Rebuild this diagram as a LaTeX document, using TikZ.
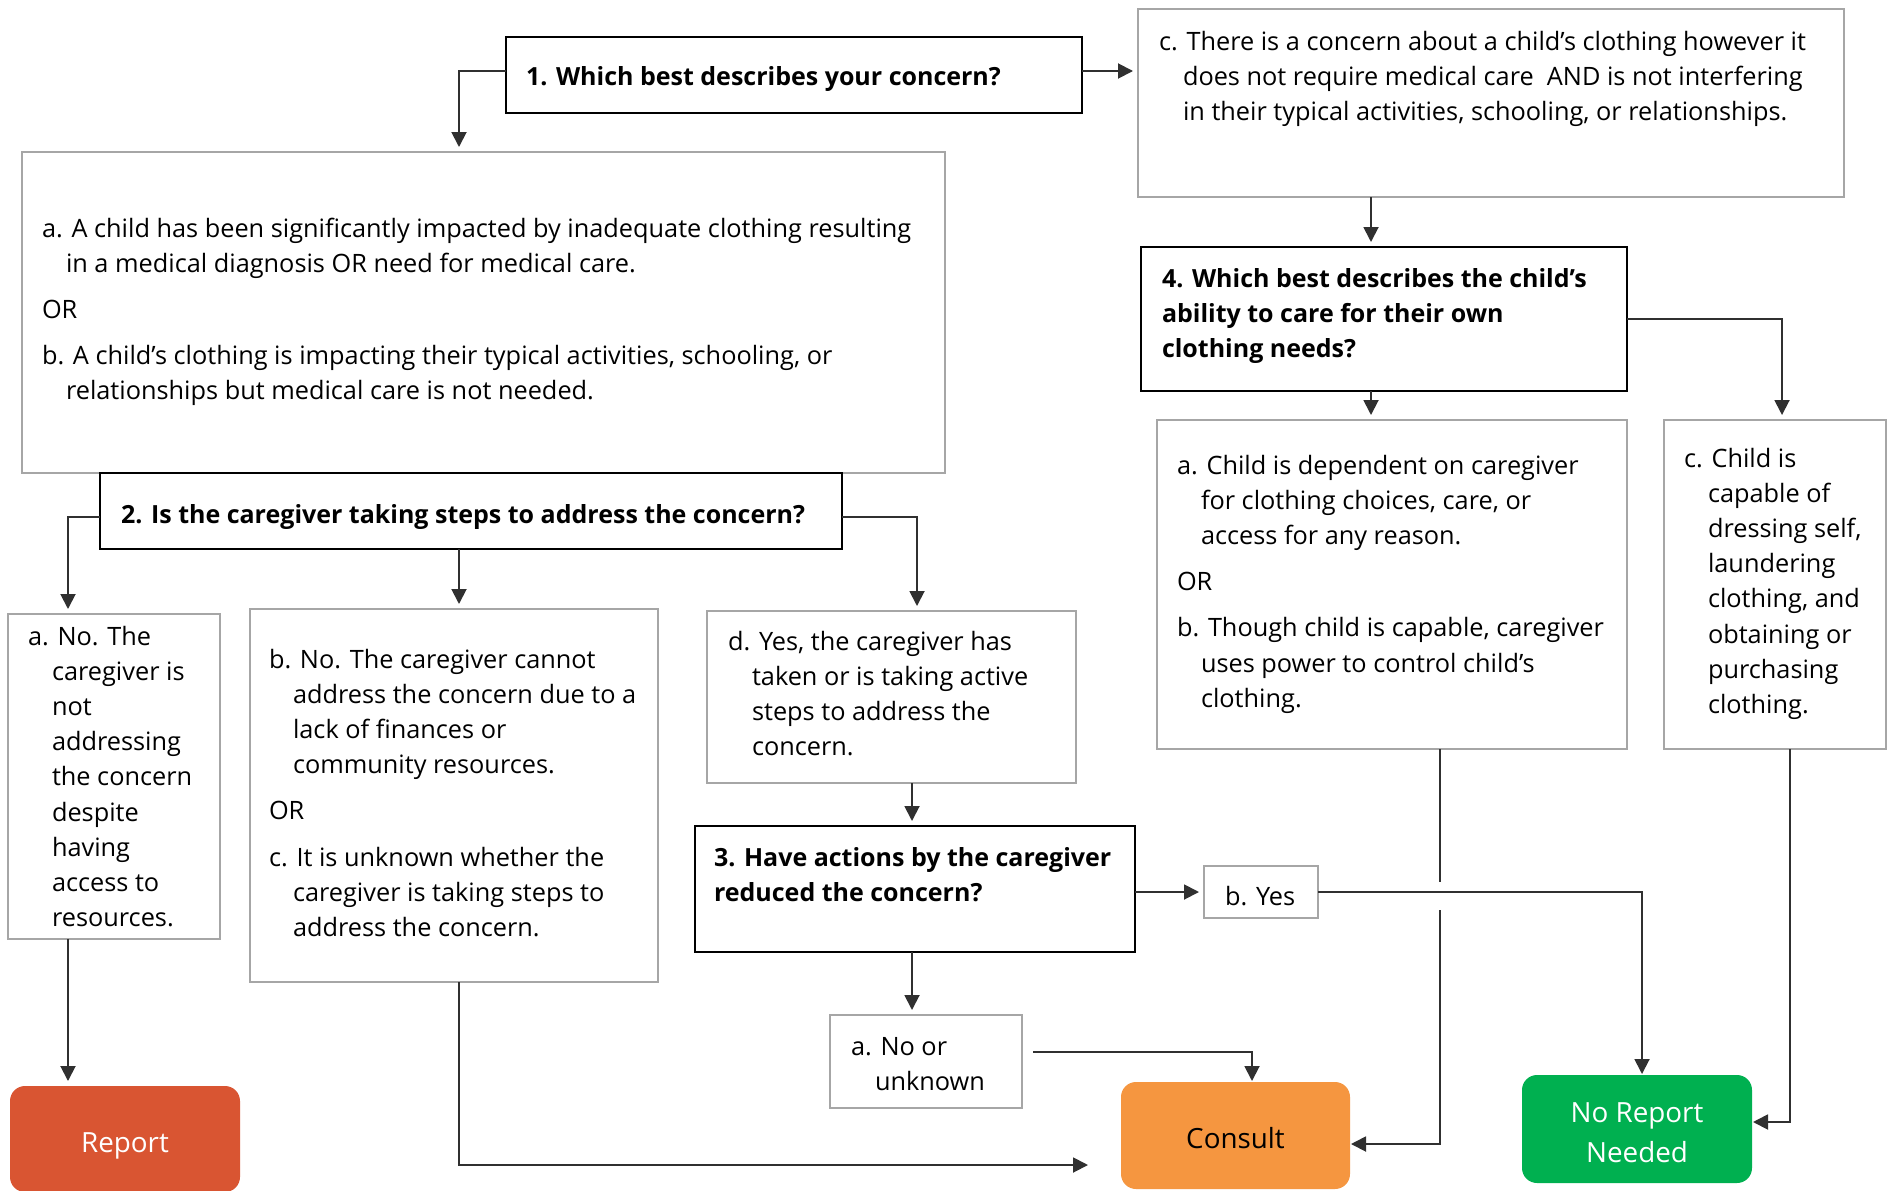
\documentclass[tikz,border=0pt]{standalone}
\usepackage{fontspec}
\setmainfont{Open Sans}
\usetikzlibrary{arrows.meta,calc}

\definecolor{boxgray}{HTML}{A6A6A6}
\definecolor{linegray}{HTML}{303030}
\definecolor{reportred}{HTML}{D95532}
\definecolor{consultorange}{HTML}{F59640}
\definecolor{noreportgreen}{HTML}{00B050}

\newcommand\bodyfont{\fontsize{25.3}{35.2}\selectfont}
\newcommand\qfont{\fontsize{25}{35.2}\selectfont\bfseries}
\newcommand\termfont{\fontsize{27.8}{40}\selectfont}
\newcommand\hind{\hspace*{24pt}}
\newcommand\gap{\noalign{\vskip11pt}}
% stacked lines whose baseline is that of the first line
\newcommand\stack[1]{\vtop{\halign{##\hfil\cr#1\crcr}}}
% centred stacked lines, drawn a little low inside the rounded boxes
\newcommand\termtext[1]{\raisebox{-5pt}[\height][\depth]{\begin{tabular}{@{}c@{}}#1\end{tabular}}}

% box node from its corner coordinates: name, x1, y1, x2, y2, style
\newcommand\flowbox[6]{%
  \node[#6, minimum width={(#4)-(#2)}, minimum height={(#5)-(#3)}]
    (#1) at ({((#2)+(#4))/2},{((#3)+(#5))/2}) {};}

\tikzset{
  gbox/.style={draw=boxgray, line width=2pt, fill=white, inner sep=0pt, outer sep=0pt},
  qbox/.style={draw=black, line width=2.4pt, fill=white, inner sep=0pt, outer sep=0pt},
  term/.style={rounded corners=15pt, inner sep=0pt, outer sep=0pt, font=\termfont},
  txt/.style={inner sep=0pt, outer sep=0pt, anchor=base west, font=\bodyfont},
  qtxt/.style={txt, font=\qfont},
  link/.style={draw=linegray, line width=1.9pt},
  arr/.style={link, shorten >=5pt, -{Triangle[length=15pt,width=15pt]}},
  tarr/.style={arr, shorten >=1pt},
}

\begin{document}
\begin{tikzpicture}[x=1pt,y=-1pt]
\useasboundingbox (0,0) rectangle (1893,1191);
\fill[white] (0,0) rectangle (1893,1191);

% ---- boxes ----
\flowbox{q1}{506}{37}{1082}{113}{qbox}
\flowbox{A}{22}{152}{945}{473}{gbox}
\flowbox{C}{1138}{9}{1844}{197}{gbox}
\flowbox{q4}{1141}{247}{1627}{391}{qbox}
\flowbox{a4}{1157}{420}{1627}{749}{gbox}
\flowbox{c4c}{1664}{420}{1886}{749}{gbox}
\flowbox{q2}{100}{473}{842}{549}{qbox}
\flowbox{a2}{8}{614}{220}{939}{gbox}
\flowbox{b2}{250}{609}{658}{982}{gbox}
\flowbox{d2}{707}{611}{1076}{783}{gbox}
\flowbox{q3}{695}{826}{1135}{952}{qbox}
\flowbox{yes}{1204}{866}{1318}{918}{gbox}
\flowbox{a3}{830}{1015}{1022}{1108}{gbox}

% ---- outcomes ----
\node[term, fill=reportred, text=white, minimum width=230, minimum height=106]
  (report) at (125,1139) {\termtext{Report}};
\node[term, fill=consultorange, text=black, minimum width=229, minimum height=107]
  (cons) at (1235.5,1135.5) {\termtext{Consult}};
\node[term, fill=noreportgreen, text=white, minimum width=230, minimum height=108]
  (norep) at (1637,1129) {\termtext{No Report\\Needed}};

% ---- texts ----
\node[qtxt] (t1) at (526,85) {1. Which best describes your concern?};
\node[txt] (tA) at (42,237) {\stack{a. A child has been significantly impacted by inadequate clothing resulting\cr
  \hind in a medical diagnosis OR need for medical care.\cr\gap
  OR\cr\gap
  b. A child’s clothing is impacting their typical activities, schooling, or\cr
  \hind relationships but medical care is not needed.}};
\node[txt] (tC) at (1159,50) {\stack{c. There is a concern about a child’s clothing however it\cr
  \hind does not require medical care~ AND is not interfering\cr
  \hind in their typical activities, schooling, or relationships.}};
\node[qtxt] (t4) at (1162,287) {\stack{4. Which best describes the child’s\cr
  ability to care for their own\cr clothing needs?}};
\node[txt] (t4a) at (1177,474) {\stack{a. Child is dependent on caregiver\cr
  \hind for clothing choices, care, or\cr
  \hind access for any reason.\cr\gap
  OR\cr\gap
  b. Though child is capable, caregiver\cr
  \hind uses power to control child’s\cr
  \hind clothing.}};
\node[txt] (t4c) at (1684,467) {\stack{c. Child is\cr \hind capable of\cr \hind dressing self,\cr
  \hind laundering\cr \hind clothing, and\cr \hind obtaining or\cr \hind purchasing\cr \hind clothing.}};
\node[qtxt] (t2) at (121,523) {2. Is the caregiver taking steps to address the concern?};
\node[txt] (t2a) at (28,645) {\stack{a. No. The\cr \hind caregiver is\cr \hind not\cr \hind addressing\cr
  \hind the concern\cr \hind despite\cr \hind having\cr \hind access to\cr \hind resources.}};
\node[txt] (t2b) at (269,668) {\stack{b. No. The caregiver cannot\cr
  \hind address the concern due to a\cr
  \hind lack of finances or\cr
  \hind community resources.\cr\gap
  OR\cr\gap
  c. It is unknown whether the\cr
  \hind caregiver is taking steps to\cr
  \hind address the concern.}};
\node[txt] (t2d) at (728,650) {\stack{d. Yes, the caregiver has\cr
  \hind taken or is taking active\cr
  \hind steps to address the\cr
  \hind concern.}};
\node[qtxt] (t3) at (714,866) {\stack{3. Have actions by the caregiver\cr reduced the concern?}};
\node[txt] (t3a) at (851,1055) {\stack{a. No or\cr \hind unknown}};
\node[txt] (tyes) at (1225,905) {b. Yes};

% ---- routing columns and bends ----
\coordinate (xA) at (459,0);
\coordinate (xR) at (1371,0);
\coordinate (xC) at (1782,0);
\coordinate (xL) at (68,0);
\coordinate (xB) at (459,0);
\coordinate (xD) at (917,0);
\coordinate (x3) at (912,0);
\coordinate (xCons) at (1252,0);
\coordinate (xNR) at (1642,0);
\coordinate (xW) at (1790,0);
\coordinate (r1w) at ([yshift=4pt]q1.west);
\coordinate (r1e) at ([yshift=4pt]q1.east);
\coordinate (r2w) at ([yshift=-6pt]q2.west);
\coordinate (r2e) at ([yshift=-6pt]q2.east);
\coordinate (r3a) at ([xshift=11pt,yshift=9.5pt]a3.east);
\coordinate (gapTop) at (1440,882);
\coordinate (gapBot) at (1440,910);
\coordinate (consR) at ([yshift=-8.5pt]cons.east);
\coordinate (norepR) at ([yshift=7pt]norep.east);
\coordinate (endB) at (1093,1165);

% ---- connectors ----
\draw[arr] (r1w) -| (A.north -| xA);
\draw[arr] (r1e) -- (r1e -| C.west);
\draw[arr] (C.south -| xR) -- (q4.north -| xR);
\draw[arr] (q4.east) -| (c4c.north -| xC);
\draw[arr] (q4.south -| xR) -- (a4.north -| xR);
\draw[arr] (r2w) -| (a2.north -| xL);
\draw[arr] (q2.south -| xB) -- (b2.north -| xB);
\draw[arr] (r2e) -| (d2.north -| xD);
\draw[arr] (d2.south -| x3) -- (q3.north -| x3);
\draw[arr] (q3.east |- yes.west) -- (yes.west);
\draw[arr] (q3.south -| x3) -- (a3.north -| x3);
\draw[tarr] (r3a) -| (cons.north -| xCons);
\draw[tarr] (yes.east) -| (norep.north -| xNR);
\draw[link] (a4.south -| gapTop) -- (gapTop);
\draw[tarr] (gapBot) |- (consR);
\draw[tarr] (c4c.south -| xW) |- (norepR);
\draw[arr] (a2.south -| xL) -- (report.north -| xL);
\draw[arr] (b2.south -| xB) |- (endB);
\end{tikzpicture}
\end{document}
